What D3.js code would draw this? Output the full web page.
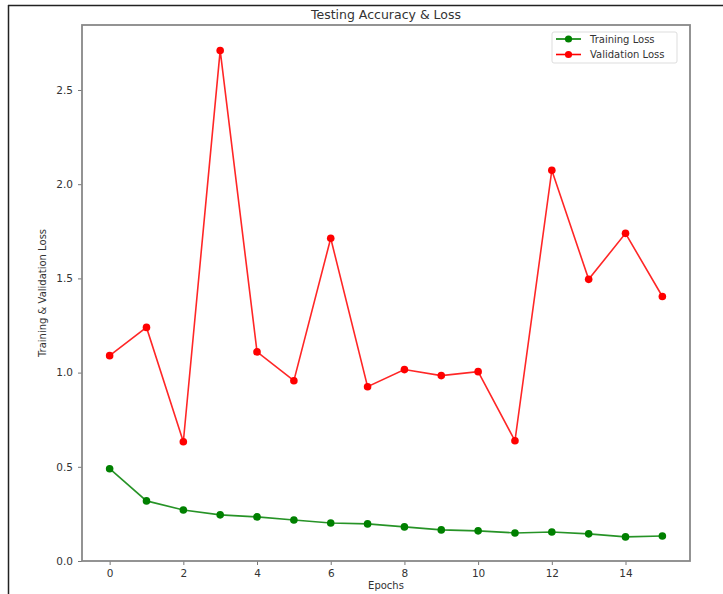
<!DOCTYPE html>
<html>
<head>
<meta charset="utf-8">
<script src="https://cdn.jsdelivr.net/npm/d3@7"></script>
<style>
  html, body { margin: 0; padding: 0; background: #fff; }
  svg { display: block; }
  text { font-family: "DejaVu Sans", sans-serif; fill: #333; }
</style>
</head>
<body>
<script>
const epochs = [0,1,2,3,4,5,6,7,8,9,10,11,12,13,14,15];
const trainingLoss = [0.49,0.319,0.271,0.245,0.234,0.218,0.202,0.197,0.181,0.165,0.16,0.149,0.154,0.144,0.128,0.133];
const validationLoss = [1.09,1.24,0.633,2.71,1.11,0.957,1.713,0.925,1.016,0.984,1.005,0.638,2.074,1.495,1.739,1.404];
const xTicks = [0,2,4,6,8,10,12,14];
const yTicks = [0.0,0.5,1.0,1.5,2.0,2.5];
const seriesNames = ["Training Loss","Validation Loss"];
const seriesColors = ["green","red"];

const W = 723, H = 594;
const box = {left: 82, right: 690, top: 25, bottom: 561};

const svg = d3.select("body").append("svg").attr("width", W).attr("height", H);

// outer image frame
svg.append("line").attr("x1",8.5).attr("x2",8.5).attr("y1",5).attr("y2",H).attr("stroke","#222").attr("stroke-width",1.5);
svg.append("line").attr("x1",8).attr("x2",W).attr("y1",5.5).attr("y2",5.5).attr("stroke","#222").attr("stroke-width",1.5);

const x = d3.scaleLinear().domain([-0.75, 15.75]).range([box.left, box.right]);
const y = d3.scaleLinear().domain([0, 2.845]).range([box.bottom, box.top]);

// axes
const xAxis = svg.append("g").attr("transform",`translate(0,${box.bottom})`)
  .call(d3.axisBottom(x).tickValues(xTicks).tickSize(4).tickPadding(5).tickFormat(d3.format("d")));
const yAxis = svg.append("g").attr("transform",`translate(${box.left},0)`)
  .call(d3.axisLeft(y).tickValues(yTicks).tickSize(4).tickPadding(5).tickFormat(d3.format(".1f")));
[xAxis,yAxis].forEach(g => {
  g.select(".domain").remove();
  g.selectAll(".tick line").attr("stroke","#777");
  g.selectAll(".tick text").style("font-family","DejaVu Sans, sans-serif").style("font-size","10.5px").attr("fill","#444");
});

// frame
svg.append("rect").attr("x",box.left).attr("y",box.top)
  .attr("width",box.right-box.left).attr("height",box.bottom-box.top)
  .attr("fill","none").attr("stroke","#888").attr("stroke-width",1.8);

// series
const series = [trainingLoss, validationLoss];
const line = d3.line().x((d,i)=>x(epochs[i])).y(d=>y(d));
series.forEach((vals, k) => {
  svg.append("path").datum(vals).attr("d", line)
    .attr("fill","none").attr("stroke",seriesColors[k]).attr("stroke-width",1.6).attr("stroke-opacity",0.85);
  svg.append("g").selectAll("circle").data(vals).join("circle")
    .attr("cx",(d,i)=>x(epochs[i])).attr("cy",d=>y(d)).attr("r",3.8).attr("fill",seriesColors[k]);
});

// title & labels
svg.append("text").attr("x",(box.left+box.right)/2).attr("y",19).attr("text-anchor","middle")
  .style("font-size","12.5px").attr("fill","#333").text("Testing Accuracy & Loss");
svg.append("text").attr("x",(box.left+box.right)/2).attr("y",589).attr("text-anchor","middle")
  .style("font-size","10px").attr("fill","#444").text("Epochs");
svg.append("text").attr("transform",`translate(46,${(box.top+box.bottom)/2}) rotate(-90)`).attr("text-anchor","middle")
  .style("font-size","10px").attr("fill","#444").text("Training & Validation Loss");

// legend
const lg = svg.append("g");
lg.append("rect").attr("x",552).attr("y",32).attr("width",125).attr("height",31).attr("rx",2)
  .attr("fill","#fff").attr("stroke","#ddd");
seriesNames.forEach((n,k) => {
  const yy = 39 + k*15.5;
  lg.append("line").attr("x1",556).attr("x2",581).attr("y1",yy).attr("y2",yy)
    .attr("stroke",seriesColors[k]).attr("stroke-width",1.6);
  lg.append("circle").attr("cx",568.5).attr("cy",yy).attr("r",3.6).attr("fill",seriesColors[k]);
  lg.append("text").attr("x",590).attr("y",yy+3.5).style("font-size","10px").attr("fill","#444").text(n);
});
</script>
</body>
</html>
